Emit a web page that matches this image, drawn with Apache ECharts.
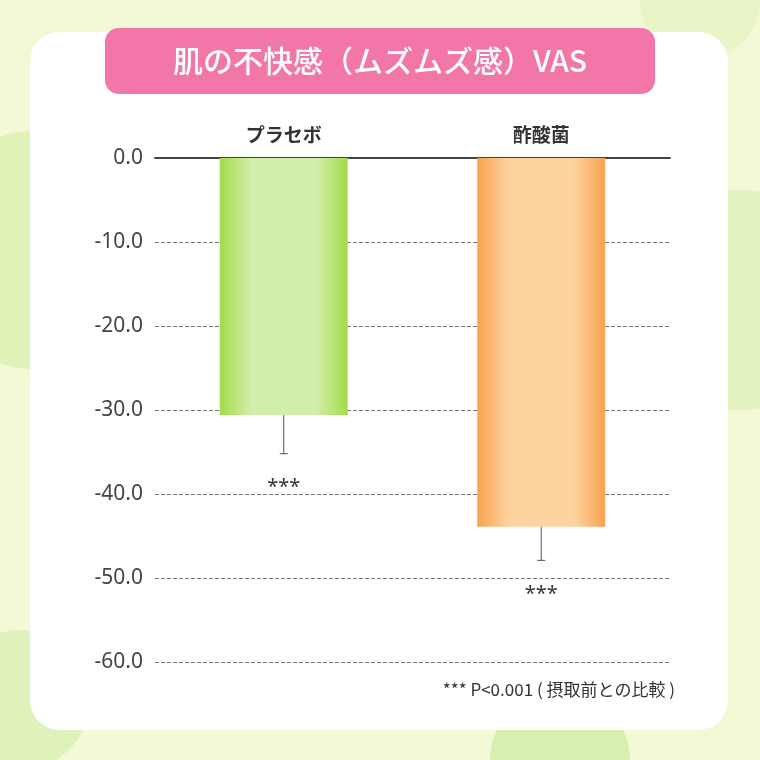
<!DOCTYPE html>
<html><head><meta charset="utf-8">
<script src="https://cdn.jsdelivr.net/npm/echarts@6/dist/echarts.min.js"></script>
<style>html,body{margin:0;padding:0;}#chart{width:760px;height:760px;}</style>
</head><body><div id="chart"></div>
<script>
var categories = ['プラセボ', '酢酸菌'];
var values = [-30.6, -43.9];
var errLow = [-35.2, -47.9];
var sigLabels = ['***', '***'];

var myChart = echarts.init(document.getElementById('chart'));

function barFill(edge, mid){
  return new echarts.graphic.LinearGradient(0, 0, 1, 0, [
    {offset: 0, color: edge}, {offset: 0.25, color: mid}, {offset: 0.75, color: mid}, {offset: 1, color: edge}
  ]);
}
var fills = [barFill('#a2dc4a', '#d3eeaa'), barFill('#f8a24e', '#fdd3a0')];

var option = {
  backgroundColor: '#f3f9d6',
  graphic: [
    {type:'circle', shape:{cx:40, cy:250, r:120}, style:{fill:'#dff2b8'}, z:-10},
    {type:'circle', shape:{cx:740, cy:300, r:110}, style:{fill:'#e3f4c0'}, z:-10},
    {type:'circle', shape:{cx:700, cy:0, r:60}, style:{fill:'#e8f5c6'}, z:-10},
    {type:'circle', shape:{cx:20, cy:700, r:70}, style:{fill:'#e0f2bc'}, z:-10},
    {type:'circle', shape:{cx:560, cy:760, r:70}, style:{fill:'#d8efb0'}, z:-10},
    {type:'rect', shape:{x:30, y:32, width:698, height:698, r:30}, style:{fill:'#ffffff'}, z:-5},
    {type:'rect', shape:{x:105, y:28, width:550, height:66, r:14}, style:{fill:'#f277a8'}, z:5},
    {type:'text', x:380, y:61, style:{text:'肌の不快感（ムズムズ感）VAS', fill:'#fff', font:'500 30px "Noto Sans CJK JP"', align:'center', verticalAlign:'middle'}, z:6},
    {type:'text', x:675, y:690, style:{text:'*** P<0.001 ( 摂取前との比較 )', fill:'#333', font:'17px "Noto Sans CJK JP"', align:'right', verticalAlign:'middle'}, z:6}
  ],
  grid: {left: 155, right: 90, top: 158, bottom: 98},
  xAxis: {
    type: 'category', data: categories, position: 'top',
    axisLine: {show: true, lineStyle: {color: '#444', width: 2}},
    axisTick: {show: false},
    axisLabel: {color: '#333', fontSize: 19, fontWeight: 'bold', margin: 14, fontFamily: 'Noto Sans CJK JP'}
  },
  yAxis: {
    type: 'value', min: -60, max: 0, interval: 10,
    axisLine: {show: false}, axisTick: {show: false},
    axisLabel: {color: '#444', fontSize: 21, margin: 12, fontFamily: 'Noto Sans',
      formatter: function(v){ return v.toFixed(1); }},
    splitLine: {lineStyle: {color: '#777', type: 'dashed', width: 1}}
  },
  series: [
    {
      type: 'bar', barWidth: 128,
      data: values.map(function(v, i){ return {value: v, itemStyle: {color: fills[i]}}; })
    },
    {
      type: 'custom', z: 10,
      data: values.map(function(v, i){ return [i, v, errLow[i]]; }),
      renderItem: function(params, api){
        var top = api.coord([api.value(0), api.value(1)]);
        var bot = api.coord([api.value(0), api.value(2)]);
        return {type: 'group', children: [
          {type: 'line', shape: {x1: top[0], y1: top[1], x2: bot[0], y2: bot[1]}, style: {stroke: '#555', lineWidth: 1}},
          {type: 'line', shape: {x1: bot[0]-4, y1: bot[1], x2: bot[0]+4, y2: bot[1]}, style: {stroke: '#555', lineWidth: 1}},
          {type: 'text', x: bot[0], y: bot[1] + 34, style: {text: sigLabels[params.dataIndex], fill: '#333', font: '20px "Noto Sans"', align: 'center', verticalAlign: 'middle'}}
        ]};
      }
    }
  ]
};
myChart.setOption(option);
</script></body></html>
